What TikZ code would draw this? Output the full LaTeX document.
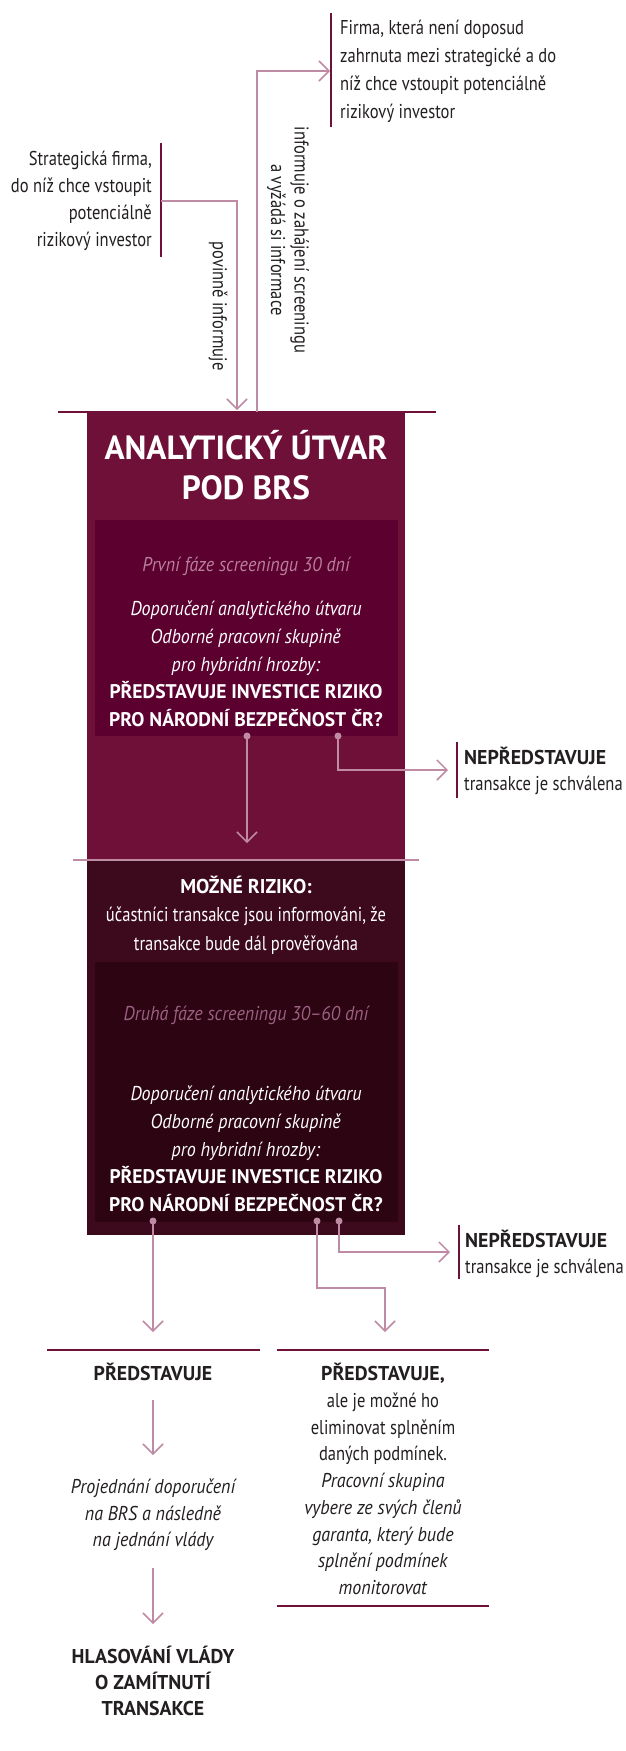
\documentclass[tikz,border=0pt]{standalone}
\usepackage{fontspec}
\usetikzlibrary{arrows.meta}
\newfontfamily\probe{PT Sans}
\newlength\probelen
\settowidth\probelen{\probe\fontsize{20}{24}\selectfont transakce je schválena}
\pgfmathsetmacro\sR{158.5/\probelen}
\settowidth\probelen{\probe\fontsize{20}{24}\selectfont\bfseries NEPŘEDSTAVUJE}
\pgfmathsetmacro\sB{142/\probelen}
\settowidth\probelen{\probe\fontsize{20}{24}\selectfont\itshape Doporučení analytického útvaru}
\pgfmathsetmacro\sI{231/\probelen}
\settowidth\probelen{\probe\fontsize{20}{24}\selectfont\bfseries PŘEDSTAVUJE INVESTICE RIZIKO}
\pgfmathsetmacro\szQ{20*273/(\probelen*\sB)}
\settowidth\probelen{\probe\fontsize{20}{24}\selectfont\bfseries ANALYTICKÝ ÚTVAR}
\pgfmathsetmacro\szT{20*283/(\probelen*\sB)}
\edef\dofonts{\noexpand\setmainfont{PT Sans}[UprightFeatures={FakeStretch=\sR},BoldFeatures={FakeStretch=\sB},ItalicFeatures={FakeStretch=\sI},BoldItalicFeatures={FakeStretch=\sB}]}
\dofonts
\definecolor{wine}{HTML}{6E1038}
\definecolor{winein}{HTML}{5C0030}
\definecolor{winedark}{HTML}{3C0A1C}
\definecolor{winedeep}{HTML}{2C0412}
\definecolor{pinkline}{HTML}{BF8AA3}
\definecolor{phaseA}{HTML}{B8809A}
\definecolor{phaseB}{HTML}{9C6080}
\definecolor{ink}{HTML}{231F20}
\tikzset{
  conn/.style={draw=pinkline, line width=1.5pt},
  arr/.style={conn, -{Straight Barb[length=10pt,width=20pt]}},
  barline/.style={draw=wine, line width=2.5pt},
  sepline/.style={draw=pinkline, line width=2pt},
  dot/.style={circle, fill=pinkline, inner sep=0pt, minimum size=7pt},
  body/.style={font=\fontsize{20}{26.7}\selectfont, text=ink, inner sep=0pt},
  boxtxt/.style={font=\fontsize{20}{27.7}\selectfont, text=white, inner sep=0pt, align=center},
  panel/.style={rectangle, inner sep=0pt, outer sep=0pt, anchor=north west},
}
\begin{document}
\begin{tikzpicture}[x=1pt,y=-1pt]
\useasboundingbox (0,0) rectangle (625,1751);

% ---- top sources
\node[body, anchor=west, align=left, font=\fontsize{20}{28}\selectfont] (firmB) at (340,71)
  {Firma, která není doposud\\zahrnuta mezi strategické a do\\níž chce vstoupit potenciálně\\rizikový investor};
\draw[barline] (331,13) -- (331,127);
\node[body, anchor=east, align=right, font=\fontsize{20}{27}\selectfont] (firmA) at (152,201)
  {Strategická firma,\\do níž chce vstoupit\\potenciálně\\rizikový investor};
\draw[barline] (161,143) -- (161,257);

% ---- main box upper part
\node[panel, fill=wine, minimum width=318pt, minimum height=448pt] (boxA) at (87,412) {};
\draw[barline] (58,412) -- (436,412);
\node[boxtxt, font=\fontsize{\szT}{40}\selectfont\bfseries] (title) at (246,465) {ANALYTICKÝ ÚTVAR\\POD BRS};
\node[panel, fill=winein, minimum width=303pt, minimum height=216pt] (inA) at (95,520) {};
\node[boxtxt, text=phaseA, font=\fontsize{20}{27.7}\selectfont\itshape] (phA) at (246,566) {První fáze screeningu 30 dní};
\node[boxtxt] (qA) at (246,664)
  {\textit{Doporučení analytického útvaru}\\\textit{Odborné pracovní skupině}\\\textit{pro hybridní hrozby:}\\{\fontsize{\szQ}{27.7}\selectfont\bfseries PŘEDSTAVUJE INVESTICE RIZIKO}\\{\fontsize{\szQ}{27.7}\selectfont\bfseries PRO NÁRODNÍ BEZPEČNOST ČR?}};

% ---- connectors into the box
\coordinate (srcA) at (161,201);
\coordinate (inTip) at (237,410);
\draw[arr] (srcA) -| (inTip);
\coordinate (outStart) at (257,412);
\coordinate (outTip) at (330,71);
\draw[arr] (outStart) |- (outTip);
\node[body, rotate=-90] (lblA) at (218,306) {povinně informuje};
\node[body, rotate=-90, align=center, font=\fontsize{20}{23.5}\selectfont] (lblB) at (288,240)
  {informuje o zahájení screeningu\\a vyžádá si informace};

% ---- first decision
\node[dot] (dA1) at (247,736) {};
\node[dot] (dA2) at (338,736) {};
\coordinate (nepATip) at (448,770);
\draw[arr] (dA2.center) |- (nepATip);
\draw[barline] (457,742) -- (457,798);
\node[body, anchor=west, align=left] (nepA) at (464,771) {\textbf{NEPŘEDSTAVUJE}\\transakce je schválena};
\coordinate (riskTip) at (247,843);
\draw[arr] (dA1.center) -- (riskTip);

% ---- main box lower part
\node[panel, fill=winedark, minimum width=318pt, minimum height=375pt] (boxB) at (87,860) {};
\draw[sepline] (73,860) -- (419,860);
\node[boxtxt, font=\fontsize{20}{28.5}\selectfont] (risk) at (246,915)
  {\textbf{MOŽNÉ RIZIKO:}\\účastníci transakce jsou informováni, že\\transakce bude dál prověřována};
\node[panel, fill=winedeep, minimum width=303pt, minimum height=260pt] (inB) at (95,962) {};
\node[boxtxt, text=phaseB, font=\fontsize{20}{27.7}\selectfont\itshape] (phB) at (246,1015) {Druhá fáze screeningu 30–60 dní};
\node[boxtxt] (qB) at (246,1149)
  {\textit{Doporučení analytického útvaru}\\\textit{Odborné pracovní skupině}\\\textit{pro hybridní hrozby:}\\{\fontsize{\szQ}{27.7}\selectfont\bfseries PŘEDSTAVUJE INVESTICE RIZIKO}\\{\fontsize{\szQ}{27.7}\selectfont\bfseries PRO NÁRODNÍ BEZPEČNOST ČR?}};

% ---- second decision
\node[dot] (dB1) at (153,1221) {};
\node[dot] (dB2) at (317,1221) {};
\node[dot] (dB3) at (339,1221) {};
\coordinate (nepBTip) at (450,1252);
\draw[arr] (dB3.center) |- (nepBTip);
\draw[barline] (459,1225) -- (459,1279);
\node[body, anchor=west, align=left] (nepB) at (465,1254) {\textbf{NEPŘEDSTAVUJE}\\transakce je schválena};
\coordinate (bendB) at (317,1288);
\coordinate (condTip) at (385,1332);
\draw[arr] (dB2.center) -- (bendB) -| (condTip);
\coordinate (repTip) at (153,1332);
\draw[arr] (dB1.center) -- (repTip);

% ---- bottom columns
\draw[barline] (47,1350) -- (260,1350);
\draw[barline] (277,1350) -- (489,1350);
\draw[barline] (277,1606) -- (489,1606);
\node[body, font=\fontsize{20}{26.7}\selectfont\bfseries] (rep) at (153,1372) {PŘEDSTAVUJE};
\coordinate (repA) at (153,1400);
\coordinate (repB) at (153,1455);
\draw[arr] (repA) -- (repB);
\node[body, align=center, font=\fontsize{20}{26.5}\selectfont\itshape] (proj) at (153,1515)
  {Projednání doporučení\\na BRS a následně\\na jednání vlády};
\coordinate (projA) at (153,1568);
\coordinate (projB) at (153,1624);
\draw[arr] (projA) -- (projB);
\node[body, align=center, font=\fontsize{20}{26}\selectfont\bfseries] (vote) at (153,1681)
  {HLASOVÁNÍ VLÁDY\\O ZAMÍTNUTÍ\\TRANSAKCE};
\node[body, align=center] (cond) at (383,1479)
  {\textbf{PŘEDSTAVUJE,}\\ale je možné ho\\eliminovat splněním\\daných podmínek.\\\textit{Pracovní skupina}\\\textit{vybere ze svých členů}\\\textit{garanta, který bude}\\\textit{splnění podmínek}\\\textit{monitorovat}};
\end{tikzpicture}
\end{document}
